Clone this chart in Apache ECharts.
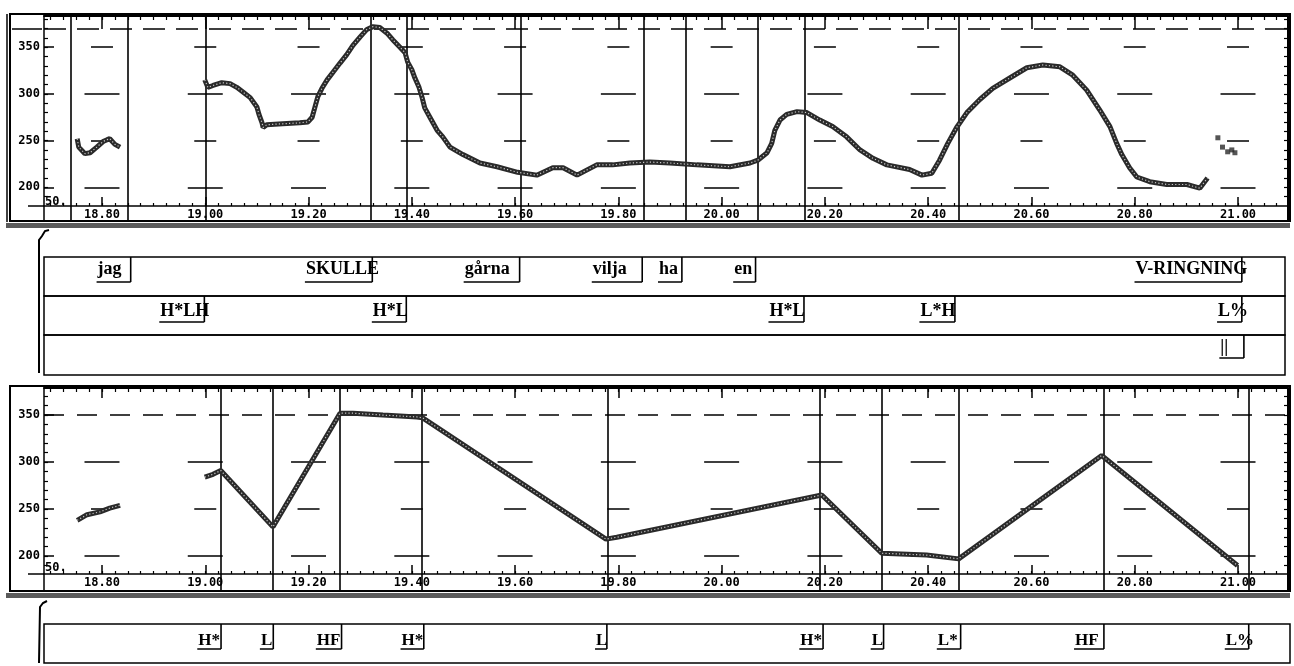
<!DOCTYPE html>
<html><head><meta charset="utf-8">
<script src="https://cdn.jsdelivr.net/npm/echarts@6/dist/echarts.min.js"></script>
<style>html,body{margin:0;padding:0;background:#fff}#c{width:1294px;height:666px}</style>
</head><body><div id="c"></div>
<script>
// ---------------- data ----------------
const X_MIN = 18.6877, X_MAX = 21.0968;
const xTickLabels = [18.8, 19.0, 19.2, 19.4, 19.6, 19.8, 20.0, 20.2, 20.4, 20.6, 20.8, 21.0];
const yTickLabels = [200, 250, 300, 350];
const topRefLine = 370;
const bottomRefLine = 350;

// measured F0 (top panel)
const topContourJag = [[18.752,252],[18.755,243],[18.767,236],[18.777,237],[18.790,243],[18.802,249],[18.810,251],[18.815,252],[18.825,246],[18.835,243]];
const topContourMain = [[18.999,315],[19.005,307],[19.015,309],[19.032,312],[19.048,311],[19.061,307],[19.073,302],[19.087,296],[19.100,286],[19.104,278],[19.110,269],[19.112,264],[19.119,267],[19.150,268],[19.183,269],[19.199,270],[19.207,275],[19.212,285],[19.218,297],[19.226,306],[19.236,315],[19.247,323],[19.261,333],[19.274,342],[19.286,352],[19.300,361],[19.313,369],[19.325,372],[19.338,371],[19.352,365],[19.363,358],[19.377,350],[19.387,344],[19.392,334],[19.400,326],[19.406,317],[19.414,307],[19.420,296],[19.425,285],[19.435,275],[19.449,261],[19.460,254],[19.474,243],[19.499,235],[19.532,226],[19.565,222],[19.605,216],[19.642,213],[19.673,221],[19.693,221],[19.720,213],[19.758,224],[19.789,224],[19.822,226],[19.861,227],[19.900,226],[19.952,224],[20.016,222],[20.055,226],[20.070,229],[20.088,237],[20.097,247],[20.103,261],[20.113,272],[20.126,278],[20.146,281],[20.165,280],[20.190,272],[20.215,265],[20.242,254],[20.268,240],[20.293,231],[20.320,224],[20.364,219],[20.388,213],[20.407,215],[20.422,229],[20.438,247],[20.455,264],[20.475,280],[20.500,294],[20.525,306],[20.558,317],[20.591,328],[20.622,331],[20.655,329],[20.680,320],[20.707,304],[20.732,283],[20.752,265],[20.765,247],[20.775,235],[20.790,221],[20.804,211],[20.829,206],[20.862,203],[20.901,203],[20.926,199],[20.941,210]];
const topContourEnd = [[20.961,253],[20.970,243],[20.980,238],[20.988,240],[20.994,237]];

// stylized F0 (bottom panel)
const bottomContourJag = [[18.752,238],[18.771,244],[18.796,247],[18.815,251],[18.835,254]];
const bottomContourMain = [[18.999,284],[19.015,287],[19.030,291],[19.131,231],[19.261,352],[19.286,352],[19.344,350],[19.410,348],[19.421,347],[19.776,218],[19.797,220],[20.194,265],[20.310,203],[20.397,201],[20.459,197],[20.736,307],[20.999,190]];

// segment boundaries shown in the top panel
const topBoundaries = [18.738, 18.854, 18.999, 19.325, 19.391, 19.613, 19.848, 19.925, 20.072, 20.163, 20.458];

// word tier
const wordLabels = ['jag', 'SKULLE', 'gårna', 'vilja', 'ha', 'en', 'V-RINGNING'];
const wordTextPos = [18.815, 19.267, 19.548, 19.786, 19.900, 20.045, 20.915];
const wordEnds = [18.856, 19.325, 19.611, 19.849, 19.926, 20.069, 21.013];
// tone tier
const toneLabels = ['H*LH', 'H*L', 'H*L', 'L*H', 'L%'];
const toneTextPos = [18.961, 19.360, 20.130, 20.423, 20.996];
const toneEnds = [18.999, 19.391, 20.163, 20.456, 21.013];
// boundary tier
const breakLabels = ['||'];
const breakTextPos = [20.979];
const breakEnds = [21.017];
// stylization tier (bottom)
const styLabels = ['H*', 'L', 'HF', 'H*', 'L', 'H*', 'L', 'L*', 'HF', 'L%'];
const styTextPos = [19.007, 19.118, 19.238, 19.400, 19.766, 20.171, 20.299, 20.435, 20.704, 21.000];
const styEnds = [19.030, 19.131, 19.263, 19.422, 19.776, 20.194, 20.311, 20.460, 20.737, 21.017];

// ---------------- helpers ----------------
const xMinorTicks = [];
for (let i = 0; i <= 95; i++) xMinorTicks.push(+(18.70 + i * 0.025).toFixed(3));
const yMinorTicks = [];
for (let v = 190; v <= 380; v += 10) yMinorTicks.push(v);

const mctx = document.createElement('canvas').getContext('2d');
function textWidth(t, font) { mctx.font = font; return mctx.measureText(t).width; }

const MONO = '"DejaVu Sans Mono"';
const SERIF_FONT = 'bold 18px "Liberation Serif"';
const SERIF_FONT_SM = 'bold 17px "Liberation Serif"';

const GL = 44, GW = 1244;
const grids = [
  { left: GL, top: 16, width: GW, height: 205 },   // 0 top panel
  { left: GL, top: 388, width: GW, height: 203 },  // 1 bottom panel
  { left: GL, top: 257, width: GW - 3, height: 39, show: true, borderColor: '#000', borderWidth: 1.5 }, // 2 words
  { left: GL, top: 296, width: GW - 3, height: 39, show: true, borderColor: '#000', borderWidth: 1.5 }, // 3 tones
  { left: GL, top: 335, width: GW - 3, height: 40, show: true, borderColor: '#000', borderWidth: 1.5 }, // 4 breaks
  { left: GL, top: 624, width: GW + 2, height: 39, show: true, borderColor: '#000', borderWidth: 1.5 }  // 5 stylization
];

function xBase(gridIndex, extra) {
  return Object.assign({ type: 'value', gridIndex, min: X_MIN, max: X_MAX, splitLine: { show: false } }, extra);
}
function panelXAxes(gi, offset) {
  return [
    xBase(gi, { position: 'bottom', offset,
      axisLine: { show: true, lineStyle: { color: '#000', width: 1.5 } },
      axisTick: { show: true, inside: true, length: 9, customValues: xTickLabels, lineStyle: { color: '#000', width: 1.5 } },
      axisLabel: { show: true, customValues: xTickLabels, formatter: v => v.toFixed(2), color: '#000', fontFamily: MONO, fontWeight: 'bold', fontSize: 12, margin: 3 } }),
    xBase(gi, { position: 'bottom', offset,
      axisLine: { show: false },
      axisTick: { show: true, inside: true, length: 3, customValues: xMinorTicks, lineStyle: { color: '#000', width: 1.2 } },
      axisLabel: { show: false } }),
    xBase(gi, { position: 'top',
      axisLine: { show: true, lineStyle: { color: '#000', width: 2 } },
      axisTick: { show: true, inside: true, length: gi === 0 ? 13 : 10, customValues: xTickLabels, lineStyle: { color: '#000', width: 1.5 } },
      axisLabel: { show: false } }),
    xBase(gi, { position: 'top',
      axisLine: { show: false },
      axisTick: { show: true, inside: true, length: 4, customValues: xMinorTicks, lineStyle: { color: '#000', width: 1.2 } },
      axisLabel: { show: false } })
  ];
}
function panelYAxes(gi, min, max) {
  return [
    { type: 'value', gridIndex: gi, min, max, position: 'left', splitLine: { show: false },
      axisLine: { show: true, lineStyle: { color: '#000', width: 1.5 } },
      axisTick: { show: true, inside: true, length: 10, customValues: yTickLabels, lineStyle: { color: '#000', width: 1.5 } },
      axisLabel: { show: true, customValues: yTickLabels, color: '#000', fontFamily: MONO, fontWeight: 'bold', fontSize: 12, margin: 4 } },
    { type: 'value', gridIndex: gi, min, max, position: 'left', splitLine: { show: false },
      axisLine: { show: false },
      axisTick: { show: true, inside: true, length: 4, customValues: yMinorTicks, lineStyle: { color: '#000', width: 1.2 } },
      axisLabel: { show: false } },
    { type: 'value', gridIndex: gi, min, max, position: 'right', splitLine: { show: false },
      axisLine: { show: true, lineStyle: { color: '#000', width: 2 } },
      axisTick: { show: true, inside: true, length: 4, customValues: yMinorTicks, lineStyle: { color: '#000', width: 1.2 } },
      axisLabel: { show: false } }
  ];
}
function hiddenX(gi) { return xBase(gi, { show: false }); }
function hiddenY(gi) { return { type: 'value', gridIndex: gi, min: 0, max: 1, show: false }; }

const TOP_YMIN = 163.9, TOP_YMAX = 383.4;
const BOT_YMIN = 162.8, BOT_YMAX = 378.8;

const xAxes = [].concat(panelXAxes(0, -15), panelXAxes(1, -17), [hiddenX(2), hiddenX(3), hiddenX(4), hiddenX(5)]);
const yAxes = [].concat(panelYAxes(0, TOP_YMIN, TOP_YMAX), panelYAxes(1, BOT_YMIN, BOT_YMAX), [hiddenY(2), hiddenY(3), hiddenY(4), hiddenY(5)]);

// dashed grid: dashes centred on the major ticks
const PX_PER_UNIT = GW / (X_MAX - X_MIN);
function gridDash(len) {
  const period = 0.2 * PX_PER_UNIT;
  const s0 = (18.8 - X_MIN) * PX_PER_UNIT - len / 2;
  return { type: [len, period - len], dashOffset: period - s0, color: '#000', width: 1.5 };
}
const dashLen = { 200: 35, 250: 22, 300: 35, 350: 22 };

function vLines(vals) {
  return vals.map(v => ({ xAxis: v, lineStyle: { type: 'solid', color: '#000', width: 1.6 } }));
}
function hLines(vals) {
  return vals.map(v => ({ yAxis: v, lineStyle: gridDash(dashLen[v]) }));
}
function markLineOf(data) {
  return { silent: true, symbol: ['none', 'none'], label: { show: false }, animation: false, data };
}

function contour(name, data, xi, yi, extra) {
  return Object.assign({ name, type: 'line', xAxisIndex: xi, yAxisIndex: yi, data, showSymbol: false,
    lineStyle: { color: '#2a2a2a', width: 5 }, z: 5, animation: false }, extra || {});
}
function contourTexture(data, xi, yi) {
  return { type: 'line', xAxisIndex: xi, yAxisIndex: yi, data, showSymbol: false, silent: true,
    lineStyle: { color: '#c8c8c8', width: 1.2, type: [1.2, 2.2] }, z: 6, animation: false };
}

function tierSeries(xi, yi, labels, pos, ends, font, textDy, lineDy) {
  return {
    type: 'custom', xAxisIndex: xi, yAxisIndex: yi, clip: false, animation: false, silent: true,
    encode: { x: [0, 1], y: 2 },
    data: pos.map((p, i) => [p, ends[i], 0.5]),
    renderItem: function (params, api) {
      const cs = params.coordSys;
      const cx = api.coord([api.value(0), 0.5])[0];
      const bx = api.coord([api.value(1), 0.5])[0];
      const t = labels[params.dataIndex];
      const w = textWidth(t, font);
      const left = Math.min(cx - w / 2, bx) - 1;
      const top = cs.y;
      return { type: 'group', children: [
        { type: 'text', x: cx, y: top + textDy, style: { text: t, font, fill: '#000', align: 'center', verticalAlign: 'middle' } },
        { type: 'line', shape: { x1: left, y1: top + lineDy, x2: bx, y2: top + lineDy }, style: { stroke: '#000', lineWidth: 1.5 } },
        { type: 'line', shape: { x1: bx, y1: top, x2: bx, y2: top + lineDy }, style: { stroke: '#000', lineWidth: 1.6 } }
      ] };
    }
  };
}

const series = [
  contour('F0 jag', topContourJag, 0, 0),
  contourTexture(topContourJag, 0, 0),
  contour('F0', topContourMain, 0, 0, {
    markLine: markLineOf([].concat(vLines(topBoundaries), hLines(yTickLabels),
      [{ yAxis: topRefLine, lineStyle: { type: [22, 11], color: '#000', width: 1.5 } }]))
  }),
  contourTexture(topContourMain, 0, 0),
  { type: 'scatter', xAxisIndex: 0, yAxisIndex: 0, data: topContourEnd, symbol: 'rect', symbolSize: 5,
    itemStyle: { color: '#2a2a2a' }, animation: false, z: 5 },
  contour('stylized jag', bottomContourJag, 4, 3),
  contourTexture(bottomContourJag, 4, 3),
  contour('stylized', bottomContourMain, 4, 3, {
    markLine: markLineOf([].concat(vLines(styEnds), hLines([200, 250, 300]),
      [{ yAxis: bottomRefLine, lineStyle: { type: [20, 13], color: '#000', width: 1.5 } }]))
  }),
  contourTexture(bottomContourMain, 4, 3),
  tierSeries(8, 6, wordLabels, wordTextPos, wordEnds, SERIF_FONT, 12, 25),
  tierSeries(9, 7, toneLabels, toneTextPos, toneEnds, SERIF_FONT, 15, 26),
  tierSeries(10, 8, breakLabels, breakTextPos, breakEnds, SERIF_FONT, 12, 23),
  tierSeries(11, 9, styLabels, styTextPos, styEnds, SERIF_FONT_SM, 17, 25)
];

const lineStyleBlack = { stroke: '#000', lineWidth: 2, fill: null };
const graphic = [
  { type: 'rect', shape: { x: 10, y: 14, width: 1280, height: 207 }, style: { fill: null, stroke: '#000', lineWidth: 2 }, silent: true },
  { type: 'line', shape: { x1: 7, y1: 14, x2: 7, y2: 222 }, style: { stroke: '#000', lineWidth: 1.5 }, silent: true },
  { type: 'rect', shape: { x: 6, y: 223, width: 1284, height: 5 }, style: { fill: '#5a5a5a' }, silent: true },
  { type: 'line', shape: { x1: 28, y1: 206, x2: 44, y2: 206 }, style: { stroke: '#000', lineWidth: 1.5 }, silent: true },
  { type: 'line', shape: { x1: 12, y1: 29, x2: 42, y2: 29 }, style: { stroke: '#000', lineWidth: 1.5 }, silent: true },
  { type: 'text', x: 45, y: 196, style: { text: '50.', font: 'bold 12px ' + MONO, fill: '#000' }, silent: true },

  { type: 'rect', shape: { x: 10, y: 386, width: 1280, height: 205 }, style: { fill: null, stroke: '#000', lineWidth: 2 }, silent: true },
  { type: 'rect', shape: { x: 6, y: 593, width: 1284, height: 5 }, style: { fill: '#5a5a5a' }, silent: true },
  { type: 'line', shape: { x1: 28, y1: 574, x2: 44, y2: 574 }, style: { stroke: '#000', lineWidth: 1.5 }, silent: true },
  { type: 'text', x: 45, y: 562, style: { text: '50.', font: 'bold 12px ' + MONO, fill: '#000' }, silent: true },

  { type: 'polyline', shape: { points: [[49, 230], [45, 231], [42, 236], [39, 240], [39, 373]] }, style: lineStyleBlack, silent: true },
  { type: 'polyline', shape: { points: [[47, 601], [43, 603], [40, 607], [39, 663]] }, style: lineStyleBlack, silent: true }
];

const chart = echarts.init(document.getElementById('c'), null, { renderer: 'canvas' });
chart.setOption({
  animation: false,
  backgroundColor: '#fff',
  grid: grids,
  xAxis: xAxes,
  yAxis: yAxes,
  series,
  graphic
});
</script>
</body></html>
